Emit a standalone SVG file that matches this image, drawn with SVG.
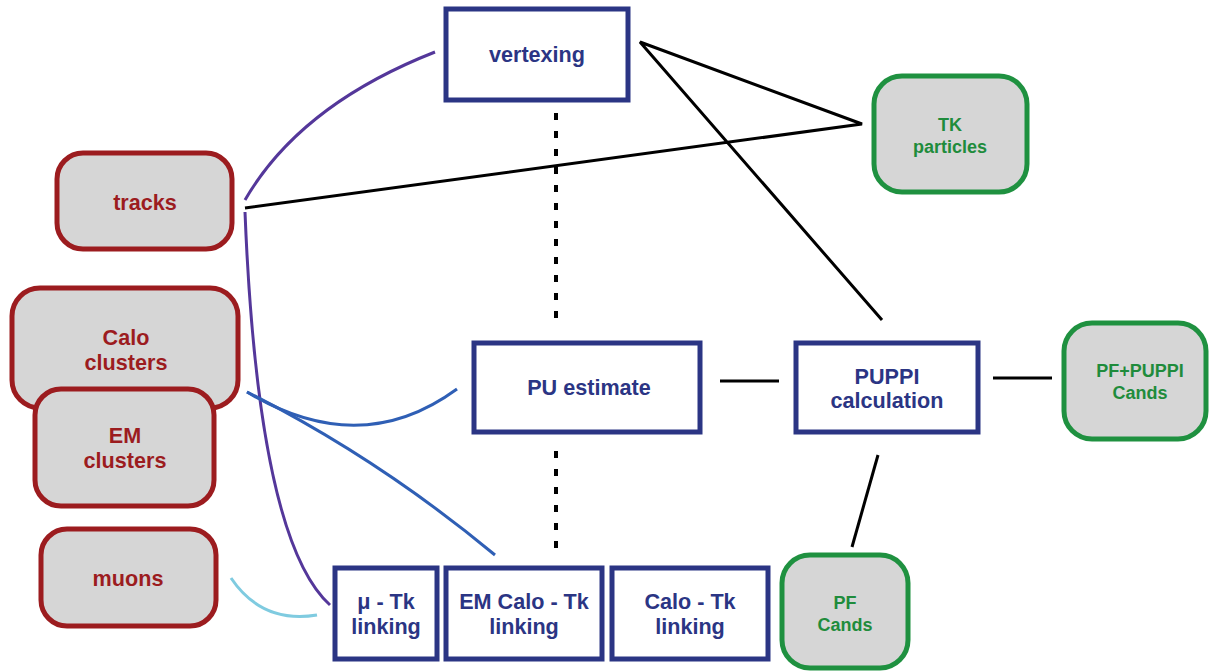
<svg xmlns="http://www.w3.org/2000/svg" width="1209" height="672" viewBox="0 0 1209 672">
<style>
.box{fill:#ffffff;stroke:#2b3584;stroke-width:5}
.src{fill:#d6d6d6;stroke:#9c1c1f;stroke-width:5}
.out{fill:#d6d6d6;stroke:#1f9140;stroke-width:5}
text{font-family:"Liberation Sans",Arial,sans-serif;font-weight:bold;text-anchor:middle}
.tn{fill:#2b3584;font-size:21.6px}
.tr{fill:#9c1c1f;font-size:21.6px}
.tg{fill:#1f8c3c;font-size:18px}
.c{fill:none;stroke-width:3}
.k{stroke:#000000}
.p{stroke:#54379a}
.b{stroke:#2f5fb5}
.lb{stroke:#7fcbe0}
.d{stroke:#000000;stroke-width:4;stroke-dasharray:7 11;fill:none}
</style>
<g id="connectors">
<path class="c p" d="M245,200 Q300,105 435,52"/>
<path class="c p" d="M245,212 Q258,540 330,605"/>
<path class="c b" d="M247,392 Q360,460 457,389"/>
<path class="c b" d="M247,392 Q378,458 495,555"/>
<path class="c lb" d="M231,578 Q262,624 317,615"/>
<path class="c k" d="M245,208 L862,124 L640,42 L882,320"/>
<path class="c k" d="M720,381 L779,381"/>
<path class="c k" d="M993,378 L1052,378"/>
<path class="c k" d="M878,455 L852,547"/>
<path class="d" d="M556,113 V324"/>
<path class="d" d="M556,451 V556"/>
</g>
<g id="vertexing"><rect class="box" x="446" y="9" width="182" height="91"/><text class="tn" x="537" y="62">vertexing</text></g>
<g id="tracks"><rect class="src" x="57" y="153" width="175" height="96" rx="26"/><text class="tr" x="145" y="210">tracks</text></g>
<g id="calo-clusters"><rect class="src" x="12" y="288" width="226" height="120" rx="28"/><text class="tr" x="126" y="345">Calo</text><text class="tr" x="126" y="370">clusters</text></g>
<g id="em-clusters"><rect class="src" x="35" y="389" width="179" height="117" rx="26"/><text class="tr" x="125" y="443">EM</text><text class="tr" x="125" y="468">clusters</text></g>
<g id="muons"><rect class="src" x="41" y="529" width="175" height="97" rx="26"/><text class="tr" x="128" y="586">muons</text></g>
<g id="mu-tk"><rect class="box" x="335" y="568" width="102" height="91"/><text class="tn" x="386" y="609">μ - Tk</text><text class="tn" x="386" y="634">linking</text></g>
<g id="em-calo-tk"><rect class="box" x="446" y="568" width="156" height="91"/><text class="tn" x="524" y="609">EM Calo - Tk</text><text class="tn" x="524" y="634">linking</text></g>
<g id="calo-tk"><rect class="box" x="612" y="568" width="156" height="91"/><text class="tn" x="690" y="609">Calo - Tk</text><text class="tn" x="690" y="634">linking</text></g>
<g id="pf-cands"><rect class="out" x="782" y="555" width="126" height="113" rx="28"/><text class="tg" x="845" y="609">PF</text><text class="tg" x="845" y="631">Cands</text></g>
<g id="pu-estimate"><rect class="box" x="474" y="343" width="226" height="89"/><text class="tn" x="589" y="395">PU estimate</text></g>
<g id="puppi"><rect class="box" x="796" y="343" width="182" height="89"/><text class="tn" x="887" y="384">PUPPI</text><text class="tn" x="887" y="408">calculation</text></g>
<g id="tk-particles"><rect class="out" x="874" y="76" width="153" height="116" rx="28"/><text class="tg" x="950" y="131">TK</text><text class="tg" x="950" y="153">particles</text></g>
<g id="pf-puppi-cands"><rect class="out" x="1064" y="323" width="142" height="116" rx="28"/><text class="tg" x="1140" y="377">PF+PUPPI</text><text class="tg" x="1140" y="399">Cands</text></g>
</svg>
